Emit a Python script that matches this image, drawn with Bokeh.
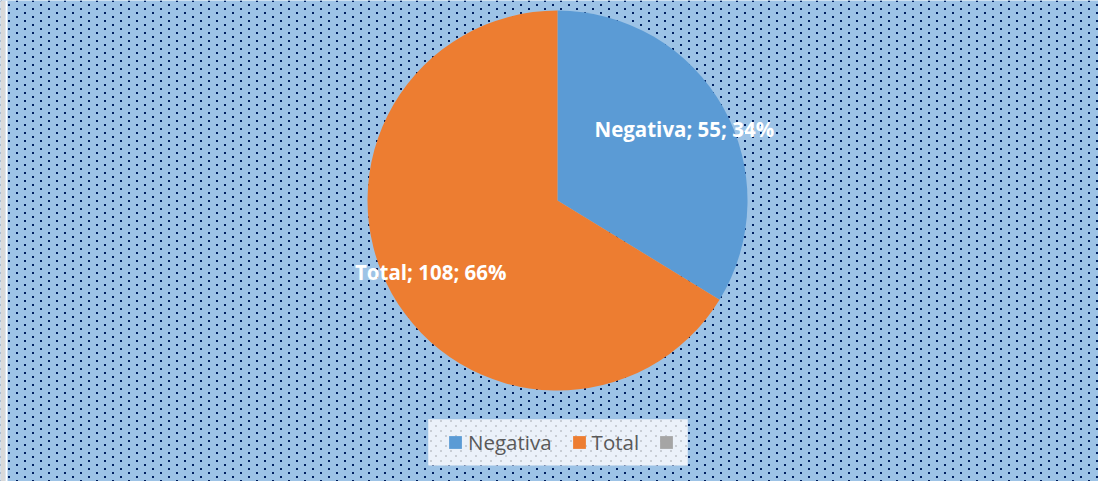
import math, zlib, struct, base64
from bokeh.plotting import figure
from bokeh.models import (ColumnDataSource, Range1d, Legend, LegendItem,
                          BoxAnnotation, ImageURLTexture)
from bokeh.core.properties import value
from bokeh.embed import file_html
from bokeh.resources import INLINE

# ---- data ----
categories = ["Negativa", "Total", ""]
values = [55, 108, 0]
colors = ["#5B9BD5", "#ED7D31", "#A5A5A5"]

# ---- dotted textures (small PNG tiles) ----
def make_png(w, h, dots, rgba):
    rows = []
    for yy in range(h):
        row = bytearray(b"\x00")
        for xx in range(w):
            on = any(dx <= xx < dx + 2 and dy <= yy < dy + 2 for dx, dy in dots)
            row += bytes(rgba if on else (0, 0, 0, 0))
        rows.append(bytes(row))
    raw = b"".join(rows)

    def chunk(t, d):
        return (struct.pack(">I", len(d)) + t + d +
                struct.pack(">I", zlib.crc32(t + d) & 0xFFFFFFFF))
    return (b"\x89PNG\r\n\x1a\n" +
            chunk(b"IHDR", struct.pack(">IIBBBBB", w, h, 8, 6, 0, 0, 0)) +
            chunk(b"IDAT", zlib.compress(raw)) + chunk(b"IEND", b""))

def data_url(png):
    return "data:image/png;base64," + base64.b64encode(png).decode()

dot_url = data_url(make_png(16, 8, [(0, 0), (8, 4)], (0, 32, 96, 255)))
leg_dot_url = data_url(make_png(10, 10, [(0, 0), (5, 5)], (200, 205, 212, 255)))

W, H = 1098, 481
p = figure(width=W, height=H, x_range=Range1d(0, W), y_range=Range1d(0, H),
           output_backend="svg", toolbar_location=None, min_border=0)
p.axis.visible = False
p.grid.visible = False
p.outline_line_color = None
p.background_fill_color = "#9DC3E6"
p.border_fill_color = "#9DC3E6"

bg = BoxAnnotation(left=0, right=W, bottom=0, top=H, fill_alpha=0,
                   line_color=None, level="underlay",
                   hatch_extra={"dots": ImageURLTexture(url=dot_url, repetition="repeat")},
                   hatch_pattern="dots", hatch_color="#002060", hatch_alpha=1.0)
p.add_layout(bg)
p.add_layout(BoxAnnotation(left=0, right=5, bottom=0, top=H, fill_color="#D9D9D9",
                           fill_alpha=1, line_color=None))
p.add_layout(BoxAnnotation(left=5, right=7, bottom=0, top=H, fill_color="#FFFFFF",
                           fill_alpha=1, line_color=None))

# legend panel backdrop (light fill with faint grey dots)
leg_x, leg_y, leg_w, leg_h = 428, 16, 259, 46
p.add_layout(BoxAnnotation(left=leg_x, right=leg_x + leg_w, bottom=leg_y,
                           top=leg_y + leg_h, fill_color="#EBF1F9", fill_alpha=1,
                           line_color=None, level="underlay",
                           hatch_extra={"ldots": ImageURLTexture(url=leg_dot_url,
                                                                  repetition="repeat")},
                           hatch_pattern="ldots", hatch_alpha=1.0))

# ---- pie geometry ----
cx, cy, R = 557, 281, 190
total = sum(values)
starts, ends, lx, ly, labels, radii = [], [], [], [], [], []
acc = 0.0
for c, v in zip(categories, values):
    a0 = math.pi / 2 - 2 * math.pi * acc / total
    acc += v
    a1 = math.pi / 2 - 2 * math.pi * acc / total
    starts.append(a0)
    ends.append(a1)
    radii.append(R if v > 0 else 0)
    mid = (a0 + a1) / 2
    lx.append(cx + 0.765 * R * math.cos(mid))
    ly.append(cy + 0.765 * R * math.sin(mid))
    labels.append(f"{c}; {v}; {round(100 * v / total)}%" if v > 0 else "")

src = ColumnDataSource(dict(category=categories, value=values, color=colors,
                            start=starts, end=ends, lx=lx, ly=ly, label=labels,
                            radius=radii))

r = p.wedge(x=cx, y=cy, radius="radius", start_angle="start", end_angle="end",
            direction="clock", fill_color="color", line_color=None, source=src)

p.text(x="lx", y="ly", text="label", source=src, text_color="white",
       text_font=value("Open Sans"), text_font_style="bold", text_font_size="20.5px",
       text_align="center", text_baseline="middle")

legend = Legend(items=[LegendItem(label=value(c), renderers=[r], index=i)
                       for i, c in enumerate(categories)],
                orientation="horizontal", location=(leg_x, leg_y),
                glyph_width=16, glyph_height=16, label_standoff=5, spacing=19,
                padding=8, margin=0, label_height=28, label_width=0,
                title=" ", title_location="left", title_standoff=9,
                title_text_font_size="1px", title_text_color="#EBF1F9",
                title_text_alpha=0,
                label_text_font="Open Sans", label_text_font_size="20.5px",
                label_text_color="#595959",
                background_fill_alpha=0,
                border_line_color="#EBF1F9", border_line_width=1)
p.add_layout(legend)

open("out.html", "w").write(file_html(p, INLINE))
